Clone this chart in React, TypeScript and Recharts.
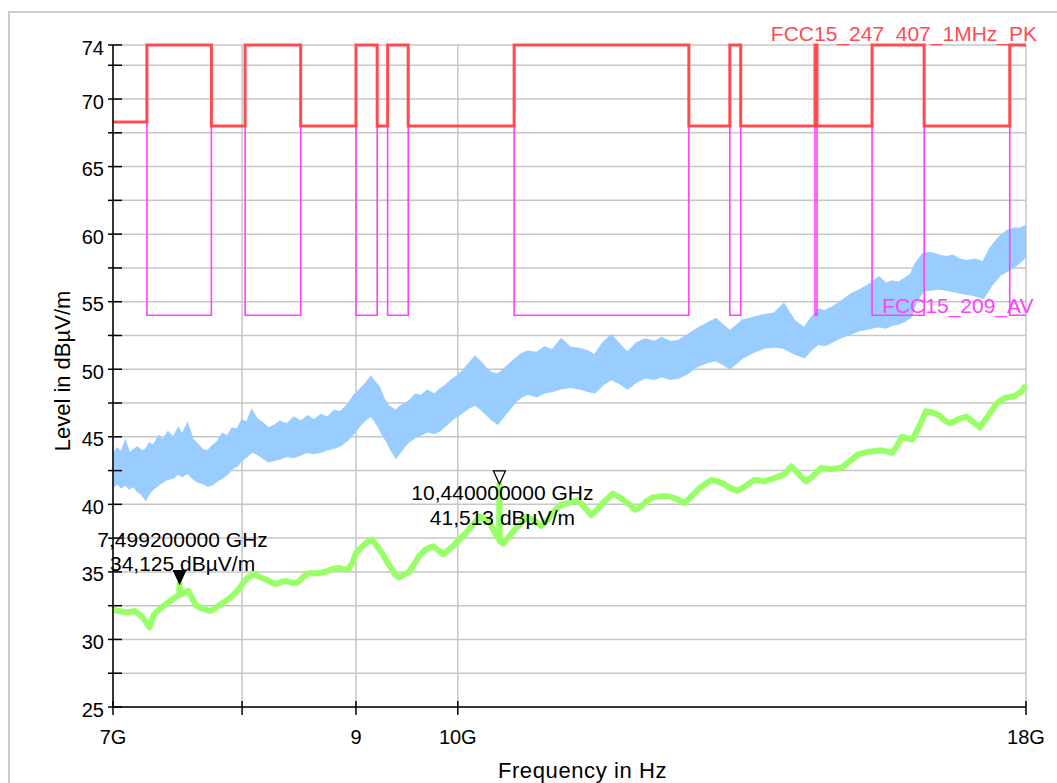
import React from 'react';
import { ComposedChart, Area, Line, XAxis, YAxis, CartesianGrid, ReferenceDot } from 'recharts';

const FONT = 'Arial, "Liberation Sans", Helvetica, sans-serif';

// ---- axes ----
const xTicksGHz = [7, 8, 9, 10, 18];
const xTickLabels = ['7G', '', '9', '10G', '18G'];
const yTicks = [25, 27.5, 30, 32.5, 35, 37.5, 40, 42.5, 45, 47.5, 50, 52.5, 55, 57.5, 60, 62.5, 65, 67.5, 70, 72.5, 74];
const yLabelledTicks = [25, 30, 35, 40, 45, 50, 55, 60, 65, 70, 74];

// ---- limit lines (step starts, GHz) ----
const limitEdgesGHz = [7, 7.25, 7.75, 8.025, 8.5, 9.0, 9.2, 9.3, 9.5, 10.6, 12.7, 13.25, 13.4, 14.47, 14.5, 15.35, 16.2, 17.7, 18];
const pkLimitDb = [68.3, 74, 68, 74, 68, 74, 68, 74, 68, 74, 68, 74, 68, 74, 68, 74, 68, 74, 74];
const avLimitDb = [68.3, 54, 68, 54, 68, 54, 68, 54, 68, 54, 68, 54, 68, 54, 68, 54, 68, 54, 54];
const pkLimitName = 'FCC15_247_407_1MHz_PK';
const avLimitName = 'FCC15_209_AV';

// ---- peak trace envelope (blue) ----
const peakFreqGHz = [
  7.00, 7.03, 7.06, 7.09, 7.12, 7.15, 7.18, 7.21, 7.24, 7.27,
  7.30, 7.34, 7.37, 7.41, 7.45, 7.49, 7.52, 7.56, 7.60, 7.64,
  7.68, 7.72, 7.76, 7.80, 7.84, 7.88, 7.92, 7.96, 8.00, 8.04,
  8.08, 8.12, 8.17, 8.22, 8.27, 8.32, 8.38, 8.44, 8.50, 8.56,
  8.62, 8.68, 8.74, 8.80, 8.86, 8.92, 8.98, 9.04, 9.09, 9.14,
  9.18, 9.22, 9.26, 9.30, 9.34, 9.38, 9.42, 9.46, 9.51, 9.57,
  9.63, 9.69, 9.76, 9.82, 9.88, 9.94, 10.00, 10.06, 10.12, 10.18,
  10.24, 10.30, 10.36, 10.42, 10.48, 10.54, 10.61, 10.68, 10.75, 10.85,
  10.94, 11.03, 11.13, 11.23, 11.34, 11.44, 11.52, 11.62, 11.72, 11.82,
  11.92, 12.03, 12.14, 12.25, 12.35, 12.46, 12.57, 12.68, 12.79, 12.92,
  13.06, 13.16, 13.25, 13.34, 13.43, 13.58, 13.73, 13.87, 14.01, 14.16,
  14.31, 14.42, 14.52, 14.62, 14.71, 14.87, 15.04, 15.15, 15.25, 15.36,
  15.46, 15.57, 15.67, 15.78, 15.88, 15.98, 16.06, 16.18, 16.30, 16.45,
  16.58, 16.69, 16.80, 16.92, 17.07, 17.22, 17.36, 17.52, 17.65, 17.78,
  17.90, 18.00,
];
const peakLowDb = [
  41.3, 41.6, 41.3, 41.5, 41.2, 41.4, 41.0, 40.8, 40.4, 40.9,
  41.2, 41.5, 41.7, 41.9, 42.0, 42.3, 42.1, 42.4, 42.0, 41.7,
  41.6, 41.4, 41.5, 41.8, 42.0, 42.3, 42.7, 42.9, 43.3, 43.6,
  43.9, 43.8, 43.5, 43.2, 43.3, 43.4, 43.6, 43.5, 43.7, 43.9,
  43.8, 43.9, 44.1, 44.2, 44.4, 44.8, 45.3, 45.9, 46.3, 46.6,
  46.2, 45.7, 45.1, 44.6, 44.0, 43.5, 43.9, 44.3, 44.7, 45.0,
  45.2, 45.4, 45.3, 45.5, 45.9, 46.3, 46.6, 46.9, 47.2, 47.4,
  47.1, 46.7, 46.3, 46.0, 46.5, 47.0, 47.6, 48.0, 48.2, 48.0,
  48.3, 48.4, 48.6, 48.7, 48.6, 48.4, 48.3, 48.9, 49.3, 49.0,
  48.6, 49.1, 49.4, 49.3, 49.5, 49.3, 49.4, 49.7, 50.2, 50.5,
  50.7, 50.4, 50.1, 50.5, 50.9, 51.3, 51.6, 51.7, 51.6, 51.2,
  50.9, 51.5, 51.9, 51.8, 52.0, 52.4, 52.7, 52.9, 53.0, 53.1,
  53.2, 53.1, 53.3, 53.4, 53.6, 53.9, 55.0, 55.8, 55.9, 56.0,
  55.9, 55.8, 55.7, 55.6, 55.5, 55.3, 56.2, 57.0, 57.3, 57.6,
  58.0, 58.4,
];
const peakHighDb = [
  43.6, 44.1, 43.8, 44.6, 43.7, 44.0, 44.2, 43.9, 44.0, 44.5,
  44.3, 45.0, 44.7, 45.3, 44.9, 45.6, 45.1, 45.9, 44.8, 44.4,
  44.0, 43.9, 44.3, 44.6, 45.2, 45.0, 45.6, 45.5, 46.2, 46.0,
  46.9, 46.3, 46.0, 45.6, 45.8, 46.1, 45.9, 46.4, 46.1, 46.5,
  46.2, 46.6, 46.4, 46.9, 46.8, 47.3, 48.0, 48.5, 48.9, 49.4,
  49.0, 48.6, 47.8, 47.3, 47.1, 46.9, 47.2, 47.4, 47.6, 48.1,
  48.0, 48.4, 48.1, 48.5, 48.8, 49.2, 49.5, 49.9, 50.4, 50.9,
  50.5, 50.0, 49.7, 49.6, 49.9, 50.3, 50.7, 51.1, 51.3, 51.2,
  51.6, 51.4, 52.2, 51.6, 51.5, 51.3, 51.0, 51.9, 52.5, 51.8,
  51.2, 51.9, 52.2, 52.0, 52.3, 52.0, 52.1, 52.5, 52.9, 53.3,
  53.7, 53.2, 52.8, 53.2, 53.6, 53.8, 54.0, 54.1, 54.8, 53.6,
  53.0, 53.8, 54.4, 54.3, 54.5, 55.0, 55.6, 55.8, 56.1, 56.4,
  56.8, 56.3, 56.5, 56.4, 56.7, 57.0, 57.8, 58.5, 58.6, 58.4,
  58.3, 58.4, 58.1, 58.0, 58.1, 57.9, 59.0, 59.8, 60.2, 60.4,
  60.4, 60.6,
];

// ---- average trace (green) ----
const avgFreqGHz = [
  7.00, 7.05, 7.10, 7.16, 7.21, 7.25, 7.27, 7.30, 7.34, 7.38,
  7.42, 7.46, 7.497, 7.4992, 7.501, 7.53, 7.565, 7.60, 7.63, 7.67,
  7.71, 7.74, 7.78, 7.84, 7.89, 7.93, 7.97, 8.01, 8.05, 8.10,
  8.15, 8.21, 8.25, 8.29, 8.34, 8.38, 8.43, 8.47, 8.52, 8.57,
  8.64, 8.72, 8.78, 8.84, 8.88, 8.93, 8.97, 9.00, 9.06, 9.12,
  9.15, 9.20, 9.245, 9.29, 9.34, 9.37, 9.41, 9.46, 9.51, 9.56,
  9.61, 9.68, 9.75, 9.80, 9.85, 9.90, 9.95, 10.02, 10.085, 10.16,
  10.23, 10.29, 10.34, 10.39, 10.437, 10.44, 10.443, 10.48, 10.52, 10.58,
  10.63, 10.69, 10.74, 10.82, 10.90, 10.98, 11.05, 11.13, 11.22, 11.32,
  11.40, 11.48, 11.55, 11.62, 11.74, 11.85, 11.94, 12.01, 12.08, 12.15,
  12.23, 12.33, 12.44, 12.54, 12.64, 12.72, 12.84, 12.92, 13.00, 13.08,
  13.17, 13.26, 13.35, 13.45, 13.59, 13.73, 13.85, 14.01, 14.12, 14.20,
  14.27, 14.34, 14.44, 14.56, 14.70, 14.87, 15.00, 15.13, 15.30, 15.51,
  15.60, 15.67, 15.75, 15.83, 15.92, 16.00, 16.10, 16.23, 16.34, 16.45,
  16.55, 16.64, 16.78, 16.92, 17.04, 17.16, 17.30, 17.47, 17.62, 17.78,
  17.90, 18.00,
];
const avgDb = [
  32.2, 32.1, 32.0, 32.1, 31.7, 31.2, 30.9, 31.8, 32.2, 32.5,
  32.8, 33.1, 33.3, 34.125, 33.3, 33.4, 33.6, 33.0, 32.5, 32.3,
  32.2, 32.1, 32.3, 32.7, 33.0, 33.3, 33.7, 34.2, 34.6, 34.8,
  34.6, 34.4, 34.2, 34.1, 34.3, 34.3, 34.2, 34.2, 34.6, 34.9,
  34.9, 35.0, 35.2, 35.3, 35.2, 35.2, 35.7, 36.4, 36.9, 37.3,
  37.4, 36.9, 36.4, 35.8, 35.2, 34.8, 34.6, 34.8, 35.0, 35.6,
  36.2, 36.7, 36.9, 36.6, 36.3, 36.6, 36.9, 37.4, 37.9, 38.5,
  39.1, 38.9, 38.6, 37.9, 37.4, 41.513, 37.3, 37.1, 37.4, 37.9,
  38.3, 38.7, 39.1, 38.8, 38.4, 38.9, 39.5, 40.0, 40.1, 40.3,
  39.8, 39.2, 39.6, 40.1, 40.8, 40.4, 40.0, 39.6, 39.8, 40.2,
  40.5, 40.6, 40.6, 40.4, 40.1, 40.5, 41.2, 41.5, 41.8, 41.7,
  41.5, 41.2, 41.0, 41.3, 41.8, 41.7, 41.9, 42.2, 42.8, 42.4,
  42.0, 41.7, 42.1, 42.7, 42.6, 42.7, 43.2, 43.7, 43.9, 44.0,
  43.9, 43.8, 44.3, 45.0, 44.9, 44.8, 45.6, 46.9, 46.8, 46.6,
  46.2, 46.0, 46.3, 46.5, 46.1, 45.7, 46.5, 47.5, 47.9, 48.0,
  48.3, 48.8,
];

// ---- markers ----
const markerFreqGHz = [7.4992, 10.44];
const markerLevelDb = [34.125, 41.513];
const markerFilled = [true, false];
const markerLabelAbove = [true, false];

// ---- colours ----
const C_PEAK = '#99ccff';
const C_AVG = '#99ff66';
const C_PK = '#ff4b50';
const C_AV = '#ff40ff';

const peakData = peakFreqGHz.map((f, i) => ({ f, range: [peakLowDb[i], peakHighDb[i]] }));
const avgData = avgFreqGHz.map((f, i) => ({ f, v: avgDb[i] }));
const pkData = limitEdgesGHz.map((f, i) => ({ f, v: pkLimitDb[i] }));
const avData = limitEdgesGHz.map((f, i) => ({ f, v: avLimitDb[i] }));

const fmtComma = (n: number, d: number) => n.toFixed(d).replace('.', ',');

const YTick = (props: any) => {
  const { x, y, payload } = props;
  const v = payload.value;
  const show = yLabelledTicks.indexOf(v) >= 0;
  return (
    <g>
      <line x1={x - 5} x2={x + 9} y1={y} y2={y} stroke="#000" strokeWidth={1.5} />
      {show && (
        <text x={x - 9} y={y + 9.5} textAnchor="end" fontSize={20} fontFamily={FONT} fill="#000">
          {String(v)}
        </text>
      )}
    </g>
  );
};

const XTick = (props: any) => {
  const { x, y, payload } = props;
  const idx = xTicksGHz.indexOf(payload.value);
  const label = idx >= 0 ? xTickLabels[idx] : '';
  return (
    <g>
      <line x1={x} x2={x} y1={y - 6} y2={y + 8} stroke="#000" strokeWidth={1.5} />
      {label && (
        <text x={x} y={y + 37} textAnchor="middle" fontSize={20} fontFamily={FONT} fill="#000">
          {label}
        </text>
      )}
    </g>
  );
};

const XTitle = (props: any) => {
  const vb = props.viewBox || { x: 0, y: 0, width: 0, height: 0 };
  return (
    <text x={vb.x + vb.width / 2 + 13} y={vb.y + vb.height - 5} textAnchor="middle" fontSize={22}
      letterSpacing={0.6} fontFamily={FONT} fill="#000">
      Frequency in Hz
    </text>
  );
};

const YTitle = (props: any) => {
  const vb = props.viewBox || { x: 0, y: 0, width: 0, height: 0 };
  const tx = vb.x + 57;
  const ty = vb.y + vb.height / 2 - 5;
  return (
    <text x={tx} y={ty} transform={`rotate(-90 ${tx} ${ty})`} textAnchor="middle" fontSize={22}
      fontFamily={FONT} fill="#000">
      Level in dB{'\u00B5'}V/m
    </text>
  );
};

const makeMarkerShape = (i: number) => (props: any) => {
  const { cx, cy } = props;
  const l1 = `${fmtComma(markerFreqGHz[i], 9)} GHz`;
  const l2 = `${fmtComma(markerLevelDb[i], 3)} dB\u00B5V/m`;
  const above = markerLabelAbove[i];
  const y1 = above ? cy - 37 : cy + 16.5;
  const y2 = above ? cy - 13 : cy + 41;
  return (
    <g>
      <text x={cx + 3} y={y1} textAnchor="middle" fontSize={21} fontFamily={FONT} fill="#000">{l1}</text>
      <text x={cx + 3} y={y2} textAnchor="middle" fontSize={21} fontFamily={FONT} fill="#000">{l2}</text>
      <polygon
        points={`${cx - 6},${cy - 13} ${cx + 6},${cy - 13} ${cx},${cy}`}
        fill={markerFilled[i] ? '#000' : '#fff'}
        stroke="#000"
        strokeWidth={1.3}
      />
    </g>
  );
};

const makeLimitLabel = (text: string, color: string, dx: number, dy: number) => (props: any) => {
  const { cx, cy } = props;
  return (
    <text x={cx + dx} y={cy + dy} textAnchor="end" fontSize={21} fontFamily={FONT} fill={color}>
      {text}
    </text>
  );
};

const lastIdx = limitEdgesGHz.length - 1;

export default function App() {
  return (
    <div style={{ position: 'fixed', left: 0, top: 0, width: 1057, height: 783, overflow: 'hidden', background: '#fff' }}>
      <div
        style={{
          position: 'absolute', left: 8, top: 11, width: 1100, height: 800,
          borderTop: '2px solid #cbcbcb', borderLeft: '2px solid #cbcbcb',
        }}
      />
      <div style={{ position: 'absolute', left: 0, top: 0 }}>
        <ComposedChart width={1057} height={783} data={peakData} margin={{ top: 45, right: 31, left: 13, bottom: 0 }}>
          <CartesianGrid stroke="#c6c6c6" strokeWidth={1.5} />
          <Area
            type="linear"
            dataKey="range"
            stroke={C_PEAK}
            strokeWidth={2.5}
            fill={C_PEAK}
            fillOpacity={1}
            isAnimationActive={false}
            dot={false}
            activeDot={false}
          />
          <Line data={avgData} type="linear" dataKey="v" stroke={C_AVG} strokeWidth={6} dot={false}
            activeDot={false} isAnimationActive={false} strokeLinejoin="round" />
          <Line data={avData} type="stepAfter" dataKey="v" stroke={C_AV} strokeWidth={1.6} dot={false}
            activeDot={false} isAnimationActive={false} />
          <Line data={pkData} type="stepAfter" dataKey="v" stroke={C_PK} strokeWidth={3} dot={false}
            activeDot={false} isAnimationActive={false} />
          <XAxis
            dataKey="f"
            type="number"
            scale="log"
            domain={[7, 18]}
            ticks={xTicksGHz}
            interval={0}
            height={76}
            tickSize={0}
            tickMargin={0}
            tickLine={false}
            axisLine={{ stroke: '#000', strokeWidth: 1.5 }}
            tick={<XTick />}
            label={{ content: (p: any) => <XTitle {...p} /> }}
          />
          <YAxis
            type="number"
            domain={[25, 74]}
            ticks={yTicks}
            interval={0}
            width={100}
            tickSize={0}
            tickMargin={0}
            tickLine={false}
            axisLine={{ stroke: '#000', strokeWidth: 1.5 }}
            tick={<YTick />}
            label={{ content: (p: any) => <YTitle {...p} /> }}
          />
          <ReferenceDot x={limitEdgesGHz[lastIdx]} y={pkLimitDb[lastIdx]} r={0}
            shape={makeLimitLabel(pkLimitName, C_PK, 11, -4)} />
          <ReferenceDot x={limitEdgesGHz[lastIdx]} y={avLimitDb[lastIdx]} r={0}
            shape={makeLimitLabel(avLimitName, C_AV, 7.5, -2.5)} />
          {markerFreqGHz.map((f, i) => (
            <ReferenceDot key={i} x={f} y={markerLevelDb[i]} r={0} shape={makeMarkerShape(i)} />
          ))}
        </ComposedChart>
      </div>
    </div>
  );
}
